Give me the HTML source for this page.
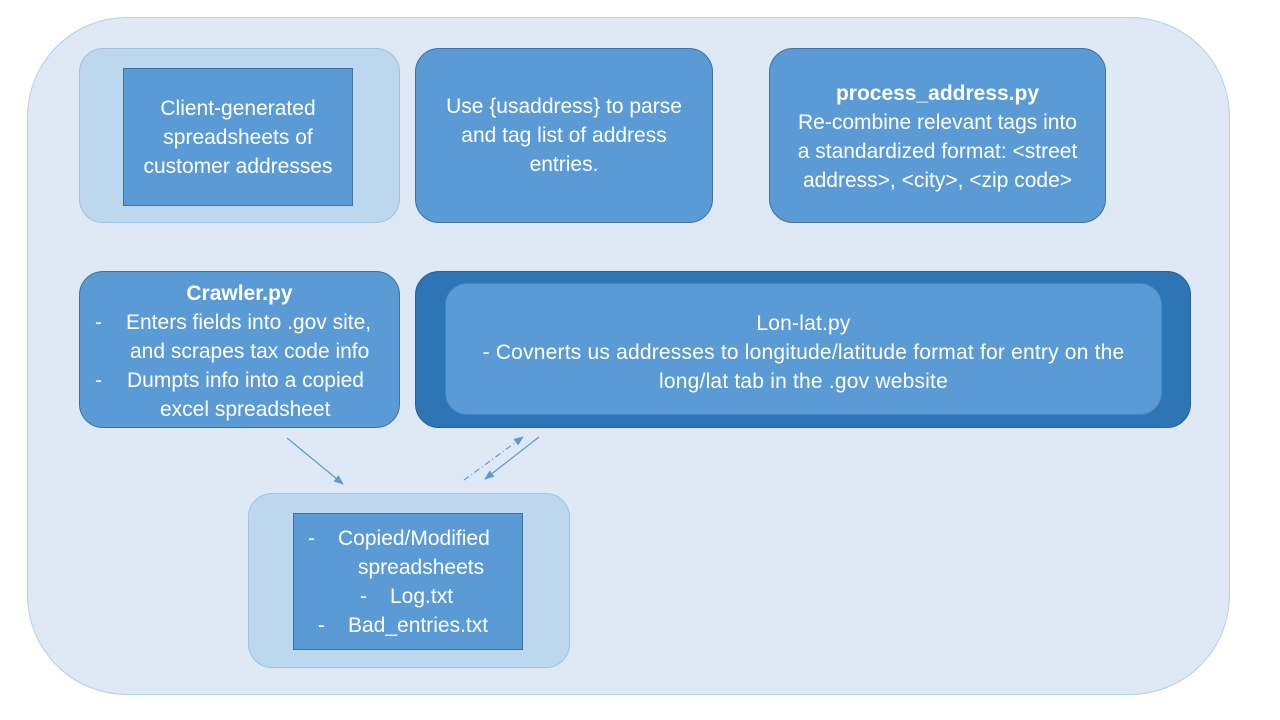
<!DOCTYPE html>
<html><head><meta charset="utf-8"><style>
body{margin:0;width:1280px;height:720px;background:#fff;position:relative;overflow:hidden;font-family:"Liberation Sans",sans-serif;color:#fff}
.a{position:absolute;box-sizing:border-box}
.t{position:absolute;left:-20px;right:-20px;text-align:center;font-size:21px;line-height:29px;white-space:nowrap}
.l{position:absolute;white-space:nowrap;font-size:21px;line-height:29px}
</style></head><body>
<div class="a" style="left:27px;top:17px;width:1203px;height:678px;background:#dee9f5;border:1px solid #b4cfe9;border-radius:100px"></div>

<div class="a" style="left:79px;top:48px;width:321px;height:175px;background:#bdd7ee;border:1px solid #9dc3e6;border-radius:24px"></div>
<div class="a" style="left:123px;top:68px;width:230px;height:138px;background:#5b9bd5;border:1px solid #41719c">
<div class="t" style="top:25px">Client-generated<br>spreadsheets of<br>customer addresses</div></div>

<div class="a" style="left:415px;top:48px;width:298px;height:175px;background:#5b9bd5;border:1px solid #41719c;border-radius:24px">
<div class="t" style="top:43px">Use {usaddress} to parse<br>and tag list of address<br>entries.</div></div>

<div class="a" style="left:769px;top:48px;width:337px;height:175px;background:#5b9bd5;border:1px solid #41719c;border-radius:24px">
<div class="t" style="top:30px"><b>process_address.py</b><br>Re-combine relevant tags into<br>a standardized format: &lt;street<br>address&gt;, &lt;city&gt;, &lt;zip code&gt;</div></div>

<div class="a" style="left:79px;top:271px;width:321px;height:157px;background:#5b9bd5;border:1px solid #41719c;border-radius:24px">
<div class="t" style="top:7px"><b>Crawler.py</b></div>
<div class="l" style="left:15px;top:36px">-</div><div class="l" style="left:46px;top:36px">Enters fields into .gov site,</div>
<div class="l" style="left:50px;top:65px">and scrapes tax code info</div>
<div class="l" style="left:15px;top:94px">-</div><div class="l" style="left:47px;top:94px">Dumpts info into a copied</div>
<div class="l" style="left:80px;top:123px">excel spreadsheet</div>
</div>

<div class="a" style="left:415px;top:271px;width:776px;height:157px;background:#2e75b6;border:1px solid #2a5f94;border-radius:24px"></div>
<div class="a" style="left:445px;top:283px;width:717px;height:132px;background:#5b9bd5;border:1px solid #4a86c0;border-radius:22px">
<div class="t" style="top:25px;letter-spacing:0.2px">Lon-lat.py<br>- Covnerts us addresses to longitude/latitude format for entry on the<br>long/lat tab in the .gov website</div></div>

<div class="a" style="left:248px;top:493px;width:322px;height:175px;background:#bdd7ee;border:1px solid #9dc3e6;border-radius:24px"></div>
<div class="a" style="left:293px;top:513px;width:230px;height:137px;background:#5b9bd5;border:1px solid #41719c">
<div class="l" style="left:14px;top:10px">-</div><div class="l" style="left:44px;top:10px">Copied/Modified</div>
<div class="l" style="left:64px;top:39px">spreadsheets</div>
<div class="l" style="left:66px;top:68px">-</div><div class="l" style="left:96px;top:68px">Log.txt</div>
<div class="l" style="left:24px;top:97px">-</div><div class="l" style="left:54px;top:97px">Bad_entries.txt</div>
</div>

<svg class="a" style="left:0;top:0" width="1280" height="720">
<defs><marker id="m" markerWidth="10" markerHeight="10" refX="9" refY="5" orient="auto" markerUnits="userSpaceOnUse"><path d="M0,1 L10,5 L0,9 Z" fill="#5b9bd5"/></marker></defs>
<line x1="287" y1="438" x2="343" y2="484" stroke="#5b9bd5" stroke-width="1.2" marker-end="url(#m)"/>
<line x1="464" y1="480" x2="523" y2="437" stroke="#5b9bd5" stroke-width="1.2" stroke-dasharray="6,3,1,3" marker-end="url(#m)"/>
<line x1="539" y1="437" x2="485" y2="479" stroke="#5b9bd5" stroke-width="1.2" marker-end="url(#m)"/>
</svg>
</body></html>
